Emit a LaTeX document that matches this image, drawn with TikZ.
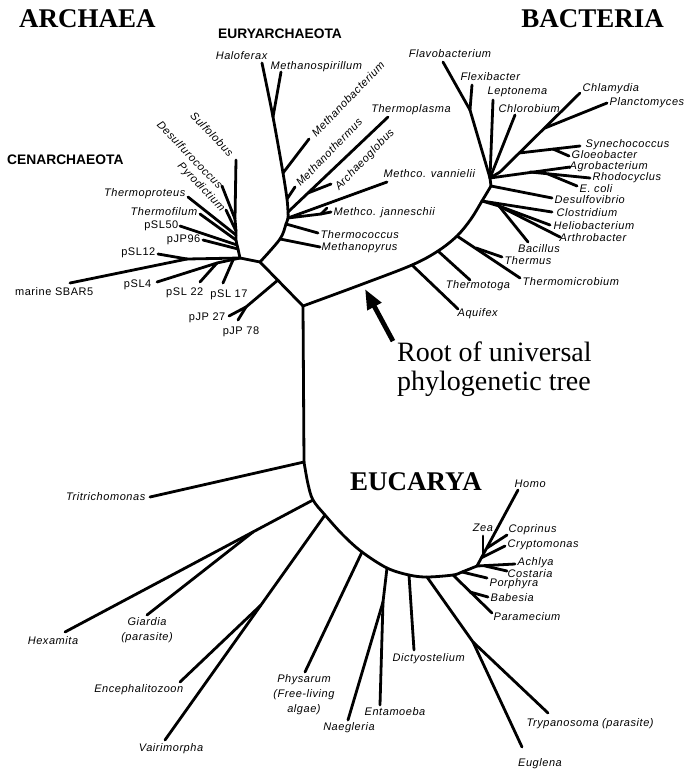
\documentclass[tikz,border=0pt]{standalone}
\usepackage{fontspec}
\setmainfont{Liberation Serif}
\setsansfont{Liberation Sans}
\newfontfamily\labelfont{Liberation Sans}[LetterSpace=5]
\usetikzlibrary{arrows.meta}
\begin{document}
\begin{tikzpicture}[x=1pt,y=-1pt,>=Latex,line cap=round,line join=round]
\path[fill=white] (0,0) rectangle (687,772);
\tikzset{branch/.style={draw=black,line width=2.8pt},taxon/.style={font=\labelfont\itshape\fontsize{11}{15}\selectfont,inner sep=0.5pt},clone/.style={font=\labelfont\fontsize{11}{15}\selectfont,inner sep=0.5pt},kingdom/.style={font=\bfseries\fontsize{27}{30}\selectfont,inner sep=0pt},phylum/.style={font=\sffamily\bfseries\fontsize{13.8}{15}\selectfont,inner sep=0pt},rootlabel/.style={font=\fontsize{28}{30}\selectfont,inner sep=0pt,anchor=base west},rootarrow/.style={draw=black,line width=4.8pt,line cap=butt,-{Triangle[length=20pt,width=15pt]}}}
% domain and phylum titles
\node[kingdom,anchor=base west] (archaea) at (19,27) {ARCHAEA};
\node[kingdom,anchor=base east] (bacteria) at (664,27) {BACTERIA};
\node[kingdom,anchor=base west] (eucarya) at (350,490) {EUCARYA};
\node[phylum,anchor=base west] (eury) at (218,38) {EURYARCHAEOTA};
\node[phylum,anchor=base west] (cren) at (7,164) {CENARCHAEOTA};
% backbone points
\coordinate (root) at (303,306); \coordinate (euc) at (304,462); \coordinate (arc) at (260,262); \coordinate (cen) at (240,258); \coordinate (bac) at (490,178);
% archaea: crenarchaeota side
\coordinate (c1) at (238,249); \coordinate (c2) at (237,245); \coordinate (c3) at (236,240); \coordinate (c4) at (236,235); \coordinate (c5) at (236,231); \coordinate (c6) at (235,219); \coordinate (sulfo) at (236,160);
\coordinate (cj) at (187,259); \coordinate (cf) at (217,263); \coordinate (c17) at (233,260);
\coordinate (sbar) at (70,283); \coordinate (psl12) at (158,254); \coordinate (psl4) at (157,282); \coordinate (psl22) at (200,282); \coordinate (psl17) at (223,283);
\coordinate (pjp96) at (203,240); \coordinate (psl50) at (180,226); \coordinate (tfil) at (200,214); \coordinate (tprot) at (188,197); \coordinate (pyro) at (226,210); \coordinate (desul) at (222,186);
\coordinate (pj) at (278,280); \coordinate (pjf) at (246,307); \coordinate (pj27) at (229,316); \coordinate (pj78) at (238,320);
% archaea: euryarchaeota side
\coordinate (e1) at (280,239); \coordinate (e2) at (286,224); \coordinate (e3) at (288,218); \coordinate (e4) at (288,212); \coordinate (e5) at (287,199); \coordinate (e6) at (283,173); \coordinate (e7) at (273,117); \coordinate (halo) at (262,63);
\coordinate (mpyr) at (320,247); \coordinate (tcoc) at (318,233); \coordinate (jf) at (321,214); \coordinate (jann) at (331,212); \coordinate (jann2) at (327,208); \coordinate (vann) at (387,182); \coordinate (tplas) at (388,117); \coordinate (aj) at (308,193); \coordinate (arch) at (331,184); \coordinate (mthe) at (295,187); \coordinate (mbac) at (309,139); \coordinate (mspi) at (281,72);
% bacteria
\coordinate (b0) at (360,285); \coordinate (b1) at (412,265); \coordinate (b2) at (438,251); \coordinate (b3) at (457,236); \coordinate (b3b) at (471,219); \coordinate (b4) at (482,201); \coordinate (b5) at (491,186);
\coordinate (aqui) at (458,309); \coordinate (ttog) at (470,280); \coordinate (tmic) at (520,278); \coordinate (tj) at (476,248); \coordinate (therm) at (502,257);
\coordinate (clos) at (552,212); \coordinate (g1) at (499,206); \coordinate (helio) at (550,225); \coordinate (arthr) at (560,237); \coordinate (bacil) at (528,242); \coordinate (desv) at (552,198);
\coordinate (agro) at (570,167); \coordinate (rj) at (530,172); \coordinate (rhodo) at (590,178); \coordinate (ej) at (548,174); \coordinate (ecoli) at (577,186);
\coordinate (ch0) at (500,172); \coordinate (chlam) at (580,93); \coordinate (pl0) at (545,128); \coordinate (planc) at (607,103); \coordinate (cy0) at (519,153); \coordinate (syne) at (580,146); \coordinate (gj) at (553,149); \coordinate (gloeo) at (569,156);
\coordinate (chlor) at (515,115); \coordinate (lept) at (493,100); \coordinate (fj) at (470,110); \coordinate (flavo) at (443,62); \coordinate (flex) at (472,85);
% eucarya
\coordinate (k0) at (308,484); \coordinate (k1) at (313,500); \coordinate (k2) at (325,515); \coordinate (k2b) at (343,535); \coordinate (k3) at (362,552); \coordinate (k4) at (387,568); \coordinate (k5) at (409,575); \coordinate (k6) at (427,577); \coordinate (k7) at (453,575); \coordinate (k8) at (462,572); \coordinate (crown) at (477,566);
\coordinate (tritri) at (150,497); \coordinate (hexa) at (65,632); \coordinate (gia0) at (253,532); \coordinate (giar) at (147,615); \coordinate (vair) at (165,740); \coordinate (enc0) at (261,605); \coordinate (ence) at (180,682); \coordinate (phys) at (305,672);
\coordinate (nj) at (383,602); \coordinate (enta) at (380,705); \coordinate (naeg) at (348,720); \coordinate (dict) at (414,650); \coordinate (try0) at (473,642); \coordinate (tryp) at (548,713); \coordinate (eugl) at (522,747);
\coordinate (para) at (492,613); \coordinate (bj) at (470,592); \coordinate (babe) at (488,597); \coordinate (porp) at (487,578); \coordinate (achl) at (515,564); \coordinate (cos0) at (485,566); \coordinate (cost) at (507,571);
\coordinate (homo) at (518,490); \coordinate (zj) at (483,555); \coordinate (zea) at (483,536); \coordinate (coj) at (487,548); \coordinate (copr) at (507,535); \coordinate (crj) at (481,558); \coordinate (cryp) at (505,546);
% tree branches
\draw[branch] (bac) -- (b5);
\draw[branch] plot[smooth,tension=0.55] coordinates {(root) (b0) (b1) (b2) (b3) (b3b) (b4) (b5)};
\draw[branch] plot[smooth,tension=0.55] coordinates {(arc) (e1) (e2) (e3) (e4) (e5) (e6) (e7) (halo)};
\draw[branch] plot[smooth,tension=0.55] coordinates {(euc) (k0) (k1) (k2) (k2b) (k3) (k4) (k5) (k6) (k7) (k8) (crown)};
\draw[branch] (cen) -- (c1) -- (c2) -- (c3) -- (c4) -- (c5) -- (c6) -- (sulfo);
\foreach \a/\b in {root/arc,root/euc,arc/cen,cen/cj,cj/sbar,cj/psl12,cen/cf,cf/psl4,cf/psl22,c17/psl17,c1/pjp96,c2/psl50,c3/tfil,c4/tprot,c5/pyro,c6/desul,pj/pjf,pjf/pj27,pjf/pj78}
  \draw[branch] (\a) -- (\b);
\foreach \a/\b in {e1/mpyr,e2/tcoc,e3/jf,jf/jann,jf/jann2,e3/vann,e4/tplas,aj/arch,e5/mthe,e6/mbac,e7/mspi}
  \draw[branch] (\a) -- (\b);
\foreach \a/\b in {b1/aqui,b2/ttog,b3/tmic,tj/therm,b4/clos,b4/g1,g1/helio,g1/arthr,g1/bacil,b5/desv,bac/agro,rj/rhodo,ej/ecoli,bac/ch0,ch0/chlam,pl0/planc,cy0/syne,gj/gloeo,bac/chlor,bac/lept,bac/fj,fj/flavo,fj/flex}
  \draw[branch] (\a) -- (\b);
\foreach \a/\b in {euc/tritri,k1/hexa,gia0/giar,k2/vair,enc0/ence,k3/phys,k4/nj,nj/enta,nj/naeg,k5/dict,k6/try0,try0/tryp,try0/eugl,k7/para,bj/babe,k8/porp,crown/achl,cos0/cost,crown/homo,zj/zea,coj/copr,crj/cryp}
  \draw[branch] (\a) -- (\b);
% archaea labels
\node[clone,anchor=north east] (lSbar) at (94,287) {marine SBAR5};
\node[clone,anchor=east] (lPsl12) at (156,253) {pSL12};
\node[clone,anchor=east] (lPsl4) at (152,285) {pSL4};
\node[clone,anchor=north east] (lPsl22) at (204,287) {pSL 22};
\node[clone,anchor=north] (lPsl17) at (229,289) {pSL 17};
\node[clone,anchor=east] (lPjp96) at (201,240) {pJP96};
\node[clone,anchor=east] (lPsl50) at (179,226) {pSL50};
\node[clone,anchor=east] (lPj27) at (226,318) {pJP 27};
\node[clone,anchor=north] (lPj78) at (241,326) {pJP 78};
\node[taxon,anchor=east] (lTfil) at (198,212) {Thermofilum};
\node[taxon,anchor=east] (lTprot) at (186,194) {Thermoproteus};
\node[taxon,rotate=-46] (lPyro) at (201,187) {Pyrodictium};
\node[taxon,rotate=-46] (lDesul) at (190,155) {Desulfurococcus};
\node[taxon,rotate=-46] (lSulfo) at (212,134) {Sulfolobus};
\node[taxon,anchor=west] (lMpyr) at (321,248) {Methanopyrus};
\node[taxon,anchor=west] (lTcoc) at (320,235) {Thermococcus};
\node[taxon,anchor=west] (lJann) at (333,213) {Methco. janneschii};
\node[taxon,anchor=base west] (lVann) at (383,177) {Methco. vannielii};
\node[taxon,anchor=base] (lTplas) at (411,112) {Thermoplasma};
\node[taxon,rotate=46] (lArch) at (365,160) {Archaeoglobus};
\node[taxon,rotate=46] (lMthe) at (329,152) {Methanothermus};
\node[taxon,rotate=46] (lMbac) at (348,99) {Methanobacterium};
\node[taxon,anchor=base west] (lMspi) at (270,69) {Methanospirillum};
\node[taxon,anchor=base east] (lHalo) at (268,59) {Haloferax};
% bacteria labels
\node[taxon,anchor=north west] (lAqui) at (457,308) {Aquifex};
\node[taxon,anchor=north] (lTtog) at (478,280) {Thermotoga};
\node[taxon,anchor=west] (lTmic) at (522,282) {Thermomicrobium};
\node[taxon,anchor=west] (lTherm) at (504,261) {Thermus};
\node[taxon,anchor=north] (lBacil) at (539,244) {Bacillus};
\node[taxon,anchor=west] (lArthr) at (559,238) {Arthrobacter};
\node[taxon,anchor=west] (lHelio) at (553,226) {Heliobacterium};
\node[taxon,anchor=west] (lClos) at (556,213) {Clostridium};
\node[taxon,anchor=west] (lDesv) at (554,200) {Desulfovibrio};
\node[taxon,anchor=west] (lEcoli) at (579,189) {E. coli};
\node[taxon,anchor=west] (lRhodo) at (592,178) {Rhodocyclus};
\node[taxon,anchor=west] (lAgro) at (569,167) {Agrobacterium};
\node[taxon,anchor=west] (lGloeo) at (571,155) {Gloeobacter};
\node[taxon,anchor=west] (lSyne) at (585,145) {Synechococcus};
\node[taxon,anchor=west] (lPlanc) at (609,103) {Planctomyces};
\node[taxon,anchor=base west] (lChlam) at (582,91) {Chlamydia};
\node[taxon,anchor=base west] (lChlor) at (498,112) {Chlorobium};
\node[taxon,anchor=base west] (lLept) at (487,94) {Leptonema};
\node[taxon,anchor=base west] (lFlex) at (460,80) {Flexibacter};
\node[taxon,anchor=base] (lFlavo) at (450,57) {Flavobacterium};
% eucarya labels
\node[taxon,anchor=east] (lTritri) at (146,497) {Tritrichomonas};
\node[taxon,anchor=north] (lHexa) at (53,636) {Hexamita};
\node[taxon,anchor=north,align=center] (lGiar) at (147,617) {Giardia\\(parasite)};
\node[taxon,anchor=north east] (lEnce) at (184,684) {Encephalitozoon};
\node[taxon,anchor=north] (lVair) at (171,743) {Vairimorpha};
\node[taxon,anchor=north,align=center] (lPhys) at (304,674) {Physarum\\(Free-living\\algae)};
\node[taxon,anchor=north] (lNaeg) at (349,722) {Naegleria};
\node[taxon,anchor=north west] (lEnta) at (364,707) {Entamoeba};
\node[taxon,anchor=north west] (lDict) at (392,653) {Dictyostelium};
\node[taxon,anchor=north west] (lTryp) at (526,718) {Trypanosoma (parasite)};
\node[taxon,anchor=north] (lEugl) at (540,758) {Euglena};
\node[taxon,anchor=west] (lPara) at (493,617) {Paramecium};
\node[taxon,anchor=west] (lBabe) at (490,598) {Babesia};
\node[taxon,anchor=west] (lPorp) at (489,584) {Porphyra};
\node[taxon,anchor=west] (lCost) at (507,574) {Costaria};
\node[taxon,anchor=west] (lAchl) at (517,563) {Achlya};
\node[taxon,anchor=west] (lCryp) at (507,545) {Cryptomonas};
\node[taxon,anchor=west] (lCopr) at (508,530) {Coprinus};
\node[taxon,anchor=base] (lZea) at (483,531) {Zea};
\node[taxon,anchor=base west] (lHomo) at (514,487) {Homo};
% root of the tree
\node[rootlabel] (rootA) at (397,361) {Root of universal};
\node[rootlabel] (rootB) at (397,390) {phylogenetic tree};
\coordinate (rootmark) at (365,289);
\draw[rootarrow] ([xshift=-4pt]rootA.north west) -- (rootmark);
\end{tikzpicture}
\end{document}
